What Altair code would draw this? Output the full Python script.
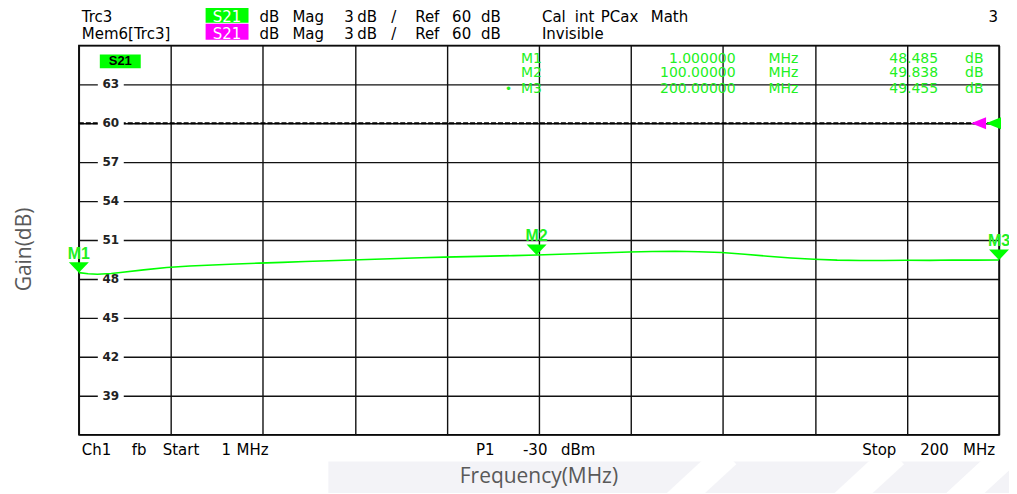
import altair as alt
import pandas as pd

# ---------------- data ----------------
freq = [1, 3, 5, 8, 10, 15, 20, 25, 30, 35, 40, 45, 50, 55, 60, 65, 70, 75, 80, 85,
        90, 95, 100, 105, 110, 115, 120, 125, 130, 135, 140, 145, 150, 155, 160,
        165, 170, 175, 180, 185, 190, 195, 200]
gain = [48.49, 48.40, 48.36, 48.42, 48.50, 48.70, 48.88, 49.00, 49.08, 49.15, 49.22,
        49.28, 49.34, 49.40, 49.46, 49.52, 49.58, 49.63, 49.68, 49.72, 49.76, 49.80,
        49.84, 49.90, 49.96, 50.02, 50.08, 50.12, 50.13, 50.10, 50.04, 49.90, 49.75,
        49.62, 49.52, 49.45, 49.42, 49.42, 49.44, 49.43, 49.46, 49.45, 49.455]

marker_names = ["M1", "M2", "M3"]
marker_freq = [1.0, 100.0, 200.0]
marker_gain = [48.485, 49.838, 49.455]
marker_freq_text = ["1.000000", "100.00000", "200.00000"]
marker_gain_text = ["48.485", "49.838", "49.455"]
marker_freq_unit = ["MHz", "MHz", "MHz"]
marker_gain_unit = ["dB", "dB", "dB"]
active_marker_dot = "\u2022"

y_grid = [36, 39, 42, 45, 48, 51, 54, 57, 60, 63, 66]
y_labels = [63, 60, 57, 54, 51, 48, 45, 42, 39]
x_grid = [1, 20.9, 40.8, 60.7, 80.6, 100.5, 120.4, 140.3, 160.2, 180.1, 200]
ref_level = [60]

x_title = "Frequency(MHz)"
y_title = "Gain(dB)"
trace_names = ["Trc3", "Mem6[Trc3]"]
param_name = "S21"
scale_words = ["dB", "Mag", "3", "dB", "/", "Ref", "60", "dB"]
cal_words = ["Cal", "int", "PCax", "Math"]
mem_state = "Invisible"
channel_no = "3"
footer_left = ["Ch1", "fb", "Start", "1", "MHz"]
footer_mid = ["P1", "-30", "dBm"]
footer_right = ["Stop", "200", "MHz"]

W, H = 922, 390
GREEN = "#00ff00"
TXTGREEN = "#22f022"
FONT = "DejaVu Sans"

xs = alt.Scale(domain=[1, 200], nice=False, zero=False)
ys = alt.Scale(domain=[36, 66], nice=False, zero=False)
X = alt.X("f:Q", scale=xs, axis=alt.Axis(values=x_grid, grid=True, labels=False, ticks=False,
                                          domain=False, title=None))
Y = alt.Y("g:Q", scale=ys, axis=alt.Axis(values=y_grid, grid=True, labels=False, ticks=False,
                                          domain=False, title=y_title,
                                          titleFont="Open Sans", titleFontSize=21,
                                          titleFontWeight="normal", titleColor="#595959",
                                          titleX=-54, titleY=204, titleBaseline="middle",
                                          titleAlign="center", titleAngle=-90))


def txt(s, x, y, align="left", color="#000", size=15, weight="normal", font=FONT):
    return alt.Chart(pd.DataFrame({"t": [s]})).mark_text(
        font=font, fontSize=size, fontWeight=weight, color=color, align=align,
        baseline="middle").encode(x=alt.value(x), y=alt.value(y), text="t:N")


def box(x1, x2, y1, y2, color):
    return alt.Chart(pd.DataFrame({"a": [0]})).mark_rect(color=color, opacity=1).encode(
        x=alt.value(x1), x2=alt.value(x2), y=alt.value(y1), y2=alt.value(y2))


def stripe(x1, y1, x2, y2, color, width):
    return alt.Chart(pd.DataFrame({"a": [0]})).mark_rule(color=color, strokeWidth=width).encode(
        x=alt.value(x1), x2=alt.value(x2), y=alt.value(y1), y2=alt.value(y2))


# faint background watermark band (below plot)
layers = [box(250, 945, 417, 452, "#f3f3f7"),
          stripe(650, 410, 598, 458, "white", 26),
          stripe(818, 410, 766, 458, "white", 26),
          stripe(930, 410, 878, 458, "white", 26),
          txt(x_title, 461, 432, "center", "#595959", 21, "normal", "Open Sans")]

trace_df = pd.DataFrame({"f": freq, "g": gain})
trace = alt.Chart(trace_df).mark_line(color=GREEN, strokeWidth=1.6, clip=True).encode(x=X, y=Y)

ref_df = pd.DataFrame({"g": ref_level})
ref = alt.Chart(ref_df).mark_rule(color="#000", strokeWidth=2, strokeDash=[5, 2]).encode(y=Y)

lab_df = pd.DataFrame({"g": y_labels, "t": [str(v) for v in y_labels]})
patch = alt.Chart(lab_df).mark_tick(color="white", opacity=1, orient="horizontal",
                                    size=26, thickness=12).encode(x=alt.value(32), y=Y)
labels = alt.Chart(lab_df).mark_text(font=FONT, fontSize=12, fontWeight="bold",
                                     color="#222", baseline="middle").encode(
    x=alt.value(32), y=Y, text="t:N")

mk_df = pd.DataFrame({"f": marker_freq, "g": marker_gain, "n": marker_names})
tri = alt.Chart(mk_df).mark_point(shape="M-1,-1.05L1,-1.05L0,0Z", size=400, filled=True,
                                  color=GREEN, opacity=1).encode(x=X, y=Y)
mk_text = alt.Chart(mk_df).mark_text(font="Liberation Sans", fontSize=16, fontWeight="bold",
                                     color=TXTGREEN, dy=-19, baseline="middle").encode(
    x=X, y=Y, text="n:N")

layers += [ref, patch, labels, trace, tri, mk_text]

# header
R1, R2 = -28.8, -11.5
layers += [box(127, 170, -38, -22.7, GREEN), box(127, 170, -21.7, -5.7, "#ff00ff")]
layers += [txt(trace_names[0], 3, R1), txt(trace_names[1], 3, R2),
           txt(param_name, 148.5, R1, "center", "white"),
           txt(param_name, 148.5, R2, "center", "white")]
scale_x = [181, 214, 266, 279, 313, 337, 374, 403]
for w, xp in zip(scale_words, scale_x):
    layers += [txt(w, xp, R1), txt(w, xp, R2)]
cal_x = [464, 497, 523, 573]
for w, xp in zip(cal_words, cal_x):
    layers += [txt(w, xp, R1)]
layers += [txt(mem_state, 464, R2), txt(channel_no, 921, R1, "right")]

# trace label inside plot
layers += [box(21, 62, 9, 23, GREEN), txt(param_name, 41.5, 16, "center", "#000", 13, "bold",
                                          "Liberation Sans")]

# marker table
rows_y = [13.3, 27.5, 43.8]
for i in range(3):
    y = rows_y[i]
    layers += [txt(marker_names[i], 464, y, "right", TXTGREEN, 14),
               txt(marker_freq_text[i], 658, y, "right", TXTGREEN, 14),
               txt(marker_freq_unit[i], 691, y, "left", TXTGREEN, 14),
               txt(marker_gain_text[i], 861, y, "right", TXTGREEN, 14),
               txt(marker_gain_unit[i], 888, y, "left", TXTGREEN, 14)]
layers += [txt(active_marker_dot, 427, rows_y[2], "left", TXTGREEN, 12)]

# reference level arrows
ref_tri_m = alt.Chart(ref_df).mark_point(shape="M0,0L1.25,-0.5L1.25,0.5Z", size=576,
                                          filled=True, color="#ff00ff", opacity=1).encode(
    x=alt.value(894), y=Y)
ref_tri_g = alt.Chart(ref_df).mark_point(shape="M0,0L1.25,-0.5L1.25,0.5Z", size=576,
                                          filled=True, color=GREEN, opacity=1).encode(
    x=alt.value(909), y=Y)
layers += [ref_tri_m, ref_tri_g]

# footer
FY = 405
for w, xp in zip(footer_left, [3, 53, 84, 143, 158]):
    layers += [txt(w, xp, FY)]
for w, xp in zip(footer_mid, [398, 445, 483]):
    layers += [txt(w, xp, FY)]
for w, xp in zip(footer_right, [785, 843, 886]):
    layers += [txt(w, xp, FY)]

chart = alt.layer(*layers).properties(
    width=W, height=H, autosize="none",
    padding={"left": 71, "top": 37, "right": 10, "bottom": 58},
).configure_view(stroke="#000", strokeWidth=1.5).configure_axis(
    gridColor="#111", gridWidth=1.4, gridOpacity=1)

chart.save("out.html", embed_options={"renderer": "svg", "actions": False})
